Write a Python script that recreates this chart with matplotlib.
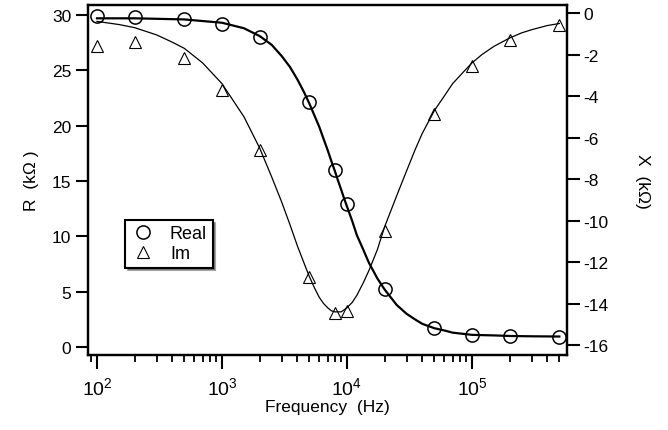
import math
import matplotlib
matplotlib.use("Agg")
import matplotlib.pyplot as plt
from matplotlib.ticker import FixedLocator, LogLocator, NullFormatter, FuncFormatter

plt.rcParams['font.family'] = ['Liberation Sans', 'DejaVu Sans']
plt.rcParams['axes.unicode_minus'] = False
plt.rcParams['mathtext.fontset'] = 'custom'
plt.rcParams['mathtext.rm'] = 'Liberation Sans'

# measured points
freq = [100, 200, 500, 1000, 2000, 5000, 8000, 10000, 20000, 50000, 100000, 200000, 500000]
r_real = [29.9, 29.8, 29.6, 29.2, 28.0, 22.1, 16.0, 12.9, 5.2, 1.7, 1.1, 1.0, 0.9]
x_im = [-1.6, -1.4, -2.15, -3.7, -6.6, -12.7, -14.45, -14.35, -10.5, -4.85, -2.55, -1.3, -0.55]

# fitted curves
fit_freq_r = [100, 200, 500, 1000, 1500, 2000, 2500, 3000, 3500, 4000, 4500, 5000,
              5500, 6000, 6500, 7000, 7500, 8000, 8500, 9000, 9500, 10000, 11000,
              12000, 13500, 15000, 17500, 20000, 25000, 30000, 35000, 40000, 50000,
              60000, 70000, 100000, 150000, 200000, 300000, 500000]
fit_r = [29.7, 29.7, 29.6, 29.3, 28.8, 28.1, 27.3, 26.3, 25.3, 24.2, 23.1, 22.0,
         20.9, 19.9, 18.8, 17.8, 16.8, 15.9, 15.0, 14.2, 13.4, 12.7, 11.4,
         10.1, 8.8, 7.6, 6.2, 5.2, 3.8, 3.0, 2.5, 2.1, 1.7,
         1.5, 1.3, 1.1, 1.05, 1.0, 0.97, 0.95]
fit_freq_x = [100, 150, 200, 300, 400, 500, 700, 1000, 1500, 2000, 2500, 3000, 3500,
              4000, 4500, 5000, 5500, 6000, 6500, 7000, 7500, 8000, 8500, 9000, 10000,
              11000, 12000, 13500, 15000, 17500, 20000, 25000, 30000, 35000, 40000,
              50000, 60000, 70000, 85000, 100000, 120000, 150000, 200000, 250000,
              300000, 400000, 500000]
fit_x = [-0.4, -0.55, -0.7, -1.05, -1.4, -1.7, -2.4, -3.4, -5.0, -6.5, -7.9, -9.1, -10.2,
         -11.2, -12.0, -12.7, -13.25, -13.7, -14.0, -14.2, -14.35, -14.4, -14.4, -14.4, -14.2,
         -13.95, -13.6, -13.0, -12.4, -11.4, -10.3, -8.8, -7.6, -6.6, -5.8,
         -4.7, -4.0, -3.4, -2.85, -2.4, -2.0, -1.6, -1.2, -0.95,
         -0.8, -0.6, -0.5]

fig = plt.figure(figsize=(6.68, 4.31), dpi=100)
ax = fig.add_axes([0.1317, 0.174, 0.717, 0.812])
ax2 = ax.twinx()

ax.plot(fit_freq_r, fit_r, color='black', lw=1.6, zorder=2)
ax.plot(freq, r_real, 'o', ms=9.5, mfc='none', mec='black', mew=1.1, label='Real', zorder=3)
ax2.plot(fit_freq_x, fit_x, color='black', lw=0.9, zorder=2)
ax2.plot(freq, x_im, '^', ms=8, mfc='none', mec='black', mew=0.8, label='Im', zorder=3)

ax.set_xscale('log')
ax.set_xlim(84.7, 575000)
ax.set_ylim(-0.72, 30.9)
ax2.set_ylim(-16.48, 0.39)

ax.yaxis.set_major_locator(FixedLocator([0, 5, 10, 15, 20, 25, 30]))
ax2.yaxis.set_major_locator(FixedLocator(list(range(-16, 1, 2))))
ax.xaxis.set_major_locator(LogLocator(base=10, numticks=10))
ax.xaxis.set_minor_locator(LogLocator(base=10, subs=range(2, 10), numticks=10))
ax.xaxis.set_minor_formatter(NullFormatter())
ax.xaxis.set_major_formatter(FuncFormatter(lambda v, p: r'$\mathregular{10^{%d}}$' % round(math.log10(v))))

for a in (ax, ax2):
    for s in a.spines.values():
        s.set_linewidth(1.6)
    a.tick_params(labelsize=12.5, width=1.5, length=9, direction='out', pad=3)
ax.tick_params(axis='x', which='major', length=10, labelsize=14, pad=5)
ax.tick_params(axis='x', which='minor', length=5, width=1.3)
ax.tick_params(top=False)

ax.set_xlabel('Frequency  (Hz)', fontsize=12.5, labelpad=1)
ax.set_ylabel('R  (k\u03a9 )', fontsize=12.5, labelpad=9)
ax2.set_ylabel('X  (k\u03a9)', fontsize=12.5, rotation=-90, labelpad=30)

h1, l1 = ax.get_legend_handles_labels()
h2, l2 = ax2.get_legend_handles_labels()
leg = ax2.legend(h1 + h2, l1 + l2, loc='lower left', bbox_to_anchor=(0.077, 0.25),
                 frameon=True, fancybox=False, shadow=True, fontsize=13,
                 handletextpad=0.8, borderpad=0.3, labelspacing=0.15, handlelength=1.4,
                 borderaxespad=0)
leg.get_frame().set_edgecolor('black')
leg.get_frame().set_linewidth(1.5)

fig.savefig('out.png', dpi=100)
